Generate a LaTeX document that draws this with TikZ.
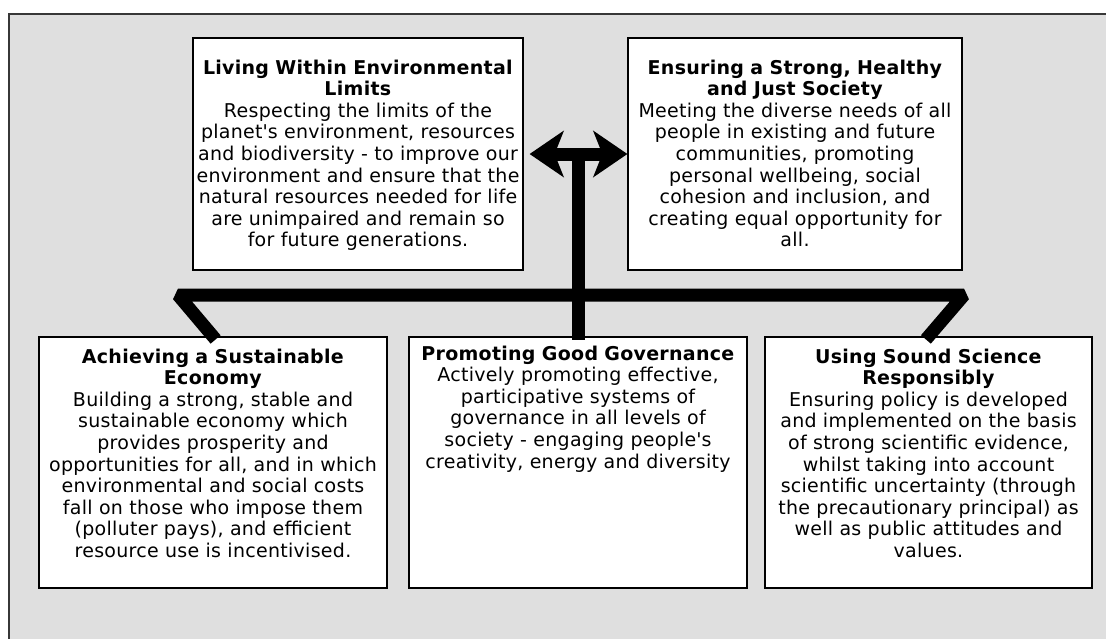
\documentclass[tikz,border=0pt]{standalone}
\usepackage{fontspec}
\setmainfont[LetterSpace=1.5]{DejaVu Sans}
\usetikzlibrary{arrows.meta,positioning}
\definecolor{panelgray}{RGB}{223,223,223}
\definecolor{framegray}{RGB}{55,55,55}

\begin{document}
\begin{tikzpicture}[x=1pt, y=-1pt,
  font=\fontsize{19}{21.6}\selectfont,
  pillar/.style={rectangle, draw=black, fill=white, line width=1.2pt, inner sep=0pt},
  pillartext/.style={align=center, inner sep=0pt},
  link/.style={line width=13pt, black}]
\useasboundingbox (0,0) rectangle (1106,638);
\fill[panelgray] (9,14) rectangle (1112,644);
\draw[framegray, line width=1.5pt] (9,644) -- (9,14) -- (1112,14);

% top row
\node[pillar, minimum width=330pt, minimum height=232pt] (limits) at (358,154) {};
\node[pillartext, text width=326pt, below=22pt of limits.north] (limits-text)
  {\textbf{Living Within Environmental}\\\textbf{Limits}\\Respecting the limits of the\\planet\textquotesingle s environment, resources\\and biodiversity - to improve our\\environment and ensure that the\\natural resources needed for life\\are unimpaired and remain so\\for future generations.};
\node[pillar, minimum width=334pt, minimum height=232pt] (society) at (795,154) {};
\node[pillartext, text width=330pt, below=22pt of society.north] (society-text)
  {\textbf{Ensuring a Strong, Healthy}\\\textbf{and Just Society}\\Meeting the diverse needs of all\\people in existing and future\\communities, promoting\\personal wellbeing, social\\cohesion and inclusion, and\\creating equal opportunity for\\all.};

% bottom row
\node[pillar, minimum width=348pt, minimum height=251pt] (econ) at (213,462.5) {};
\node[pillartext, text width=344pt, below=12pt of econ.north] (econ-text)
  {\textbf{Achieving a Sustainable}\\\textbf{Economy}\\Building a strong, stable and\\sustainable economy which\\provides prosperity and\\opportunities for all, and in which\\environmental and social costs\\fall on those who impose them\\(polluter pays), and efficient\\resource use is incentivised.};
\node[pillar, minimum width=338pt, minimum height=251pt] (gov) at (578,462.5) {};
\node[pillartext, text width=334pt, below=9pt of gov.north] (gov-text)
  {\textbf{Promoting Good Governance}\\Actively promoting effective,\\participative systems of\\governance in all levels of\\society - engaging people\textquotesingle s\\creativity, energy and diversity};
\node[pillar, minimum width=327pt, minimum height=251pt] (sci) at (928.5,462.5) {};
\node[pillartext, text width=323pt, below=12pt of sci.north] (sci-text)
  {\textbf{Using Sound Science}\\\textbf{Responsibly}\\Ensuring policy is developed\\and implemented on the basis\\of strong scientific evidence,\\whilst taking into account\\scientific uncertainty (through\\the precautionary principal) as\\well as public attitudes and\\values.};

% connectors
\coordinate (hub) at (gov.north |- limits.east);
\coordinate (barL) at (178,295);
\coordinate (barR) at (964,295);
\draw[link, line join=bevel, shorten <=-4pt, shorten >=-4pt] (econ.north) -- (barL) -- (barR) -- (sci.north);
\draw[link, shorten >=-4pt] (hub) -- (gov.north);
\draw[link, shorten <=6pt, {Stealth[length=34pt, width=46pt, inset=9pt]}-{Stealth[length=34pt, width=46pt, inset=9pt]}] (limits.east) -- (society.west);
\end{tikzpicture}
\end{document}
